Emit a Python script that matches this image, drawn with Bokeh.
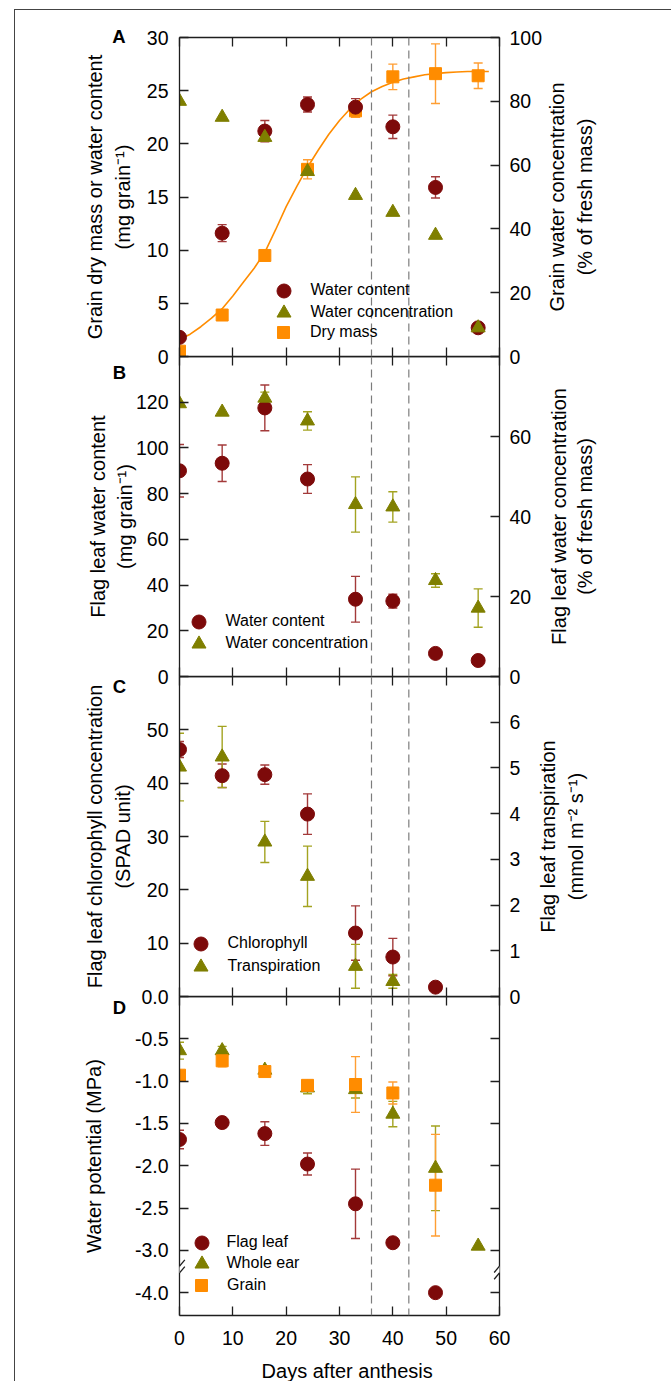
import math
from bokeh.plotting import figure
from bokeh.models import (Range1d, LinearAxis, FixedTicker, ColumnDataSource, Whisker, TeeHead,
                          Span, Legend, LegendItem, Label, Arrow, NumeralTickFormatter)
from bokeh.layouts import column
from bokeh.embed import file_html
from bokeh.resources import INLINE

# ---------------- data ----------------
days = [0, 8, 16, 24, 33, 40, 48, 56]
x_ticks = [0, 10, 20, 30, 40, 50, 60]
phase_lines = [36, 43]

# Panel A: grain
grain_water_content = [1.8, 11.6, 21.2, 23.7, 23.45, 21.6, 15.9, 2.7]
grain_water_content_err = [0, 0.8, 1.0, 0.7, 0.8, 1.1, 1.0, 0]
grain_water_conc = [80, 75, 68.7, 58, 50.5, 45.2, 38, 9]
grain_dry_mass = [0.5, 3.9, 9.5, 17.6, 23.1, 26.3, 26.6, 26.4]
grain_dry_mass_err = [0, 0, 0, 0.9, 0.6, 1.2, 2.8, 1.2]
fit_days = [0, 2, 4, 6, 8, 10, 12, 14, 16, 18, 20, 22, 24, 26, 28, 30, 32, 34, 36, 38,
            40, 42, 44, 46, 48, 50, 52, 54, 56, 58]
fit_dry_mass = [1.6, 2.1, 2.8, 3.6, 4.5, 5.7, 7.0, 8.3, 9.8, 11.9, 14.1, 16.0, 17.8, 19.4,
                20.9, 22.2, 23.3, 24.2, 24.9, 25.4, 25.8, 26.1, 26.3, 26.5, 26.6, 26.7,
                26.75, 26.8, 26.8, 26.8]

# Panel B: flag leaf water
flag_water_content = [90.0, 93.3, 117.5, 86.4, 33.8, 33.0, 10.1, 7.0]
flag_water_content_err = [11.5, 8.0, 10.0, 6.3, 10.0, 3.0, 0, 0]
flag_water_conc = [68.2, 66.1, 69.6, 63.9, 43.0, 42.4, 24.0, 17.1]
flag_water_conc_err = [0, 0, 1.5, 2.3, 6.9, 3.8, 1.7, 4.8]

# Panel C: chlorophyll and transpiration
chl_days = [0, 8, 16, 24, 33, 40, 48]
chlorophyll = [46.3, 41.4, 41.6, 34.2, 11.9, 7.4, 1.75]
chlorophyll_err = [1.5, 2.2, 1.8, 3.8, 5.1, 3.5, 0]
tr_days = [0, 8, 16, 24, 33, 40]
transpiration = [5.02, 5.24, 3.38, 2.63, 0.66, 0.33]
transpiration_err = [0.74, 0.67, 0.45, 0.66, 0.48, 0.15]

# Panel D: water potential
fl_days = [0, 8, 16, 24, 33, 40, 48]
flag_leaf_wp = [-1.69, -1.49, -1.62, -1.98, -2.45, -2.91, -4.0]
flag_leaf_wp_err = [0.11, 0.05, 0.14, 0.13, 0.41, 0, 0]
ear_days = [0, 8, 16, 24, 33, 40, 48, 56]
whole_ear_wp = [-0.64, -0.64, -0.87, -1.08, -1.10, -1.39, -2.03, -2.95]
whole_ear_wp_err = [0.1, 0.05, 0.04, 0.07, 0.1, 0.15, 0.5, 0]
gr_days = [0, 8, 16, 24, 33, 40, 48]
grain_wp = [-0.93, -0.76, -0.887, -1.05, -1.04, -1.14, -2.23]
grain_wp_err = [0, 0.07, 0.05, 0.05, 0.33, 0.13, 0.6]

# ---------------- style ----------------
FONT = "Liberation Sans"
RED, RED_E = "#7d0a0a", "#a33a3a"
OLV, OLV_E = "#7f7f00", "#a3a320"
ORG, ORG_E = "#ff8c00", "#ff9e33"
AX = "#1e1e1e"
TICK_FS = "19.5px"
TITLE_FS = "20px"
SZ_CIRC, SZ_TRI, SZ_SQ = 14, 14, 12

FRAME_W = 320
BORDER_L = 164
BORDER_R = 172
OVER = 14
TOP_A, BOTTOM_D = 27, 66
FH = [319, 320, 320, 319]


def make_fig(y_range, frame_h, top, bottom, margin_top):
    p = figure(frame_width=FRAME_W, frame_height=frame_h, x_range=Range1d(0, 60), y_range=y_range,
               min_border_left=BORDER_L, min_border_right=BORDER_R,
               min_border_top=top, min_border_bottom=bottom,
               x_axis_location=None, y_axis_location=None,
               toolbar_location=None, output_backend="svg",
               outline_line_color=None, background_fill_color=None, border_fill_color=None,
               margin=(margin_top, 0, 0, 0))
    p.grid.visible = False
    for loc in phase_lines:
        p.add_layout(Span(location=loc, dimension="height", line_color="#7c7c7c",
                          line_width=1.2, line_dash="8 5"))
    return p


def style_axis(ax, ticks, labels=True, standoff=10):
    ax.ticker = FixedTicker(ticks=ticks)
    ax.axis_line_color = AX
    ax.axis_line_width = 1.3
    ax.major_tick_in = 9
    ax.major_tick_out = 0
    ax.major_tick_line_color = AX
    ax.major_tick_line_width = 1.3
    ax.minor_tick_line_color = None
    ax.major_label_text_font = FONT
    ax.major_label_text_color = "black"
    if labels:
        ax.major_label_text_font_size = TICK_FS
        ax.major_label_standoff = standoff
    else:
        ax.major_label_text_font_size = "0px"
        ax.major_label_text_alpha = 0
        ax.major_label_standoff = 0


def x_axes(p, bottom_labels=False):
    top = LinearAxis()
    style_axis(top, x_ticks, labels=False)
    p.add_layout(top, "above")
    bot = LinearAxis()
    style_axis(bot, x_ticks, labels=bottom_labels, standoff=15)
    p.add_layout(bot, "below")


def whiskers(p, xs, ys, errs, color, range_name="default"):
    xx, lo, hi = [], [], []
    for x, y, e in zip(xs, ys, errs):
        if e > 0:
            xx.append(x)
            lo.append(y - e)
            hi.append(y + e)
    src = ColumnDataSource(dict(x=xx, lower=lo, upper=hi))
    w = Whisker(base="x", lower="lower", upper="upper", source=src, dimension="height",
                line_color=color, line_width=1.4, y_range_name=range_name,
                upper_head=TeeHead(size=9, line_color=color, line_width=1.4),
                lower_head=TeeHead(size=9, line_color=color, line_width=1.4))
    p.add_layout(w)


def pts(p, xs, ys, marker, color, size, range_name="default"):
    return p.scatter(xs, ys, marker=marker, size=size, fill_color=color, line_color=color,
                     y_range_name=range_name)


def legend_entry(p, label, renderer, cx, cy, tx, msize):
    # one legend entry; cx, cy = marker centre, tx = text start (px from frame bottom-left)
    g = msize / 0.4
    lx, ly = cx - g / 2, cy - g / 2
    lg = Legend(items=[LegendItem(label=label, renderers=[renderer])],
                location=(lx, ly), padding=0, margin=0, spacing=0,
                glyph_width=int(round(g)), glyph_height=int(round(g)),
                label_standoff=int(round(tx - lx - g)),
                label_text_font=FONT, label_text_font_size="16px", label_text_color="black",
                background_fill_alpha=0, border_line_color=None)
    p.add_layout(lg)


# ---------------- Panel A ----------------
pA = make_fig(Range1d(0, 30), FH[0], TOP_A, OVER, 0)
pA.extra_y_ranges = {"r": Range1d(0, 100)}
ax = LinearAxis()
style_axis(ax, [0, 5, 10, 15, 20, 25, 30], standoff=11)
pA.add_layout(ax, "left")
ax = LinearAxis(y_range_name="r")
style_axis(ax, [0, 20, 40, 60, 80, 100], standoff=10)
pA.add_layout(ax, "right")
x_axes(pA)
pA.line(fit_days, fit_dry_mass, line_color=ORG, line_width=1.6)
whiskers(pA, days, grain_dry_mass, grain_dry_mass_err, ORG_E)
whiskers(pA, days, grain_water_content, grain_water_content_err, RED_E)
rA3 = pts(pA, days, grain_dry_mass, "square", ORG, SZ_SQ)
rA1 = pts(pA, days, grain_water_content, "circle", RED, SZ_CIRC)
rA2 = pts(pA, days, grain_water_conc, "triangle", OLV, SZ_TRI, "r")
legend_entry(pA, "Water content", rA1, 104, 66, 131, SZ_CIRC)
legend_entry(pA, "Water concentration", rA2, 104, 44, 131, SZ_TRI)
legend_entry(pA, "Dry mass", rA3, 104, 24, 131, SZ_SQ)

# ---------------- Panel B ----------------
pB = make_fig(Range1d(0, 140), FH[1], 0, OVER, -OVER)
pB.extra_y_ranges = {"r": Range1d(0, 80)}
ax = LinearAxis()
style_axis(ax, [0, 20, 40, 60, 80, 100, 120], standoff=11)
pB.add_layout(ax, "left")
ax = LinearAxis(y_range_name="r")
style_axis(ax, [0, 20, 40, 60], standoff=10)
pB.add_layout(ax, "right")
x_axes(pB)
whiskers(pB, days, flag_water_content, flag_water_content_err, RED_E)
whiskers(pB, days, flag_water_conc, flag_water_conc_err, OLV_E, "r")
rB1 = pts(pB, days, flag_water_content, "circle", RED, SZ_CIRC)
rB2 = pts(pB, days, flag_water_conc, "triangle", OLV, SZ_TRI, "r")
legend_entry(pB, "Water content", rB1, 19, 55, 46, SZ_CIRC)
legend_entry(pB, "Water concentration", rB2, 19, 33, 46, SZ_TRI)

# ---------------- Panel C ----------------
pC = make_fig(Range1d(0, 60), FH[2], 0, OVER, -OVER)
pC.extra_y_ranges = {"r": Range1d(0, 7)}
ax = LinearAxis()
style_axis(ax, [0, 10, 20, 30, 40, 50], standoff=11)
ax.major_label_overrides = {0: "0.0"}
pC.add_layout(ax, "left")
ax = LinearAxis(y_range_name="r")
style_axis(ax, [0, 1, 2, 3, 4, 5, 6], standoff=10)
pC.add_layout(ax, "right")
x_axes(pC)
whiskers(pC, chl_days, chlorophyll, chlorophyll_err, RED_E)
whiskers(pC, tr_days, transpiration, transpiration_err, OLV_E, "r")
rC1 = pts(pC, chl_days, chlorophyll, "circle", RED, SZ_CIRC)
rC2 = pts(pC, tr_days, transpiration, "triangle", OLV, SZ_TRI, "r")
legend_entry(pC, "Chlorophyll", rC1, 21, 53, 48, SZ_CIRC)
legend_entry(pC, "Transpiration", rC2, 21, 30, 48, SZ_TRI)

# ---------------- Panel D (broken axis below -3.0) ----------------
BREAK_AT = -3.0
BREAK_SCALE = 0.5


def brk(v):
    return v if v >= BREAK_AT else BREAK_AT + (v - BREAK_AT) * BREAK_SCALE


D_LOW = -3.77
pD = make_fig(Range1d(D_LOW, 0), FH[3], 0, BOTTOM_D, -OVER)
d_ticks = [-0.5, -1.0, -1.5, -2.0, -2.5, -3.0, brk(-4.0)]
ax = LinearAxis()
style_axis(ax, d_ticks, standoff=11)
ax.formatter = NumeralTickFormatter(format="0.0")
ax.major_label_overrides = {brk(-4.0): "-4.0"}
pD.add_layout(ax, "left")
ax = LinearAxis()
style_axis(ax, d_ticks, labels=False)
pD.add_layout(ax, "right")
x_axes(pD, bottom_labels=True)


def whiskers_brk(p, xs, ys, errs, color):
    whiskers(p, xs, [brk(v) for v in ys], errs, color)


whiskers_brk(pD, fl_days, flag_leaf_wp, flag_leaf_wp_err, RED_E)
whiskers_brk(pD, ear_days, whole_ear_wp, whole_ear_wp_err, OLV_E)
whiskers_brk(pD, gr_days, grain_wp, grain_wp_err, ORG_E)
rD1 = pts(pD, fl_days, [brk(v) for v in flag_leaf_wp], "circle", RED, SZ_CIRC)
rD2 = pts(pD, ear_days, [brk(v) for v in whole_ear_wp], "triangle", OLV, SZ_TRI)
rD3 = pts(pD, gr_days, [brk(v) for v in grain_wp], "square", ORG, SZ_SQ)
legend_entry(pD, "Flag leaf", rD1, 22, 73, 48, SZ_CIRC)
legend_entry(pD, "Whole ear", rD2, 22, 52, 48, SZ_TRI)
legend_entry(pD, "Grain", rD3, 22, 30, 48, SZ_SQ)

# axis-break marks
mark_y = -3.227
for bx in (0, 60):
    pD.add_layout(Arrow(end=None, x_start=bx, y_start=mark_y - 0.04, x_end=bx, y_end=mark_y + 0.04,
                        line_color="white", line_width=5))
    for off in (-0.04, 0.04):
        pD.add_layout(Arrow(end=None, x_start=bx - 1.0, y_start=mark_y + off - 0.075,
                            x_end=bx + 1.0, y_end=mark_y + off + 0.075,
                            line_color=AX, line_width=1.3))

# ---------------- text layers (titles and panel letters) ----------------
# Transparent figures laid over the whole column; their ranges are in page pixels.
# The column aligns plot frames (each frame sits BORDER_L px inside its canvas), so every
# layer's canvas is placed so that its visible frame covers the texts it carries.
LEFT0, TOP0 = 15, 10
TL_W = BORDER_L + FRAME_W + BORDER_R
TOTAL_H = (TOP_A + FH[0] + OVER) + FH[1] + FH[2] + (FH[3] + BOTTOM_D - OVER)
V = math.pi / 2


def text_layer(canvas_left):
    frame_left = canvas_left + BORDER_L
    t = figure(frame_width=TL_W, frame_height=TOTAL_H,
               x_range=Range1d(frame_left, frame_left + TL_W),
               y_range=Range1d(TOP0 + TOTAL_H, TOP0),
               min_border=0, x_axis_location=None, y_axis_location=None,
               toolbar_location=None, output_backend="svg",
               outline_line_color=None, background_fill_color=None, border_fill_color=None,
               margin=(-TOTAL_H, 0, 0, canvas_left - LEFT0))
    t.grid.visible = False
    return t


tl = text_layer(LEFT0 - BORDER_L)   # visible x 15..507
tr = text_layer(0)                  # visible x 164..656


def text(layer, s, x, y, angle=0.0, size=TITLE_FS, bold=False):
    layer.add_layout(Label(x=x, y=y, text=s, angle=angle, text_font=FONT, text_font_size=size,
                           text_font_style="bold" if bold else "normal", text_color="black",
                           text_align="center", text_baseline="middle"))


for letter, lx, ly in (("A", 118.5, 36), ("B", 119, 371.7), ("C", 119, 686), ("D", 119, 1006.7)):
    text(tl, letter, lx, ly, size="18.5px", bold=True)

text(tl, "Grain dry mass or water content", 94, 196.5, V)
text(tl, "(mg grain\u207b\u00b9)", 122, 196.5, V)
text(tr, "Grain water concentration", 556, 196.5, V)
text(tr, "(% of fresh mass)", 584, 196.5, V)

text(tl, "Flag leaf water content", 97, 516, V)
text(tl, "(mg grain\u207b\u00b9)", 124, 516, V)
text(tr, "Flag leaf water concentration", 558, 516, V)
text(tr, "(% of fresh mass)", 584, 516, V)

text(tl, "Flag leaf chlorophyll concentration", 94, 836, V)
text(tl, "(SPAD unit)", 122, 836, V)
text(tr, "Flag leaf transpiration", 547.7, 836, V)
text(tr, "(mmol m\u207b\u00b2 s\u207b\u00b9)", 575.5, 836, V)

text(tl, "Water potential (MPa)", 93, 1155.5, V)
text(tl, "Days after anthesis", 346.7, 1370)

layout = column(pA, pB, pC, pD, tl, tr, margin=(9, 0, 0, 14),
                styles={"border-left": "1px solid #444", "border-top": "1px solid #444"})

open("out.html", "w").write(file_html(layout, INLINE))
